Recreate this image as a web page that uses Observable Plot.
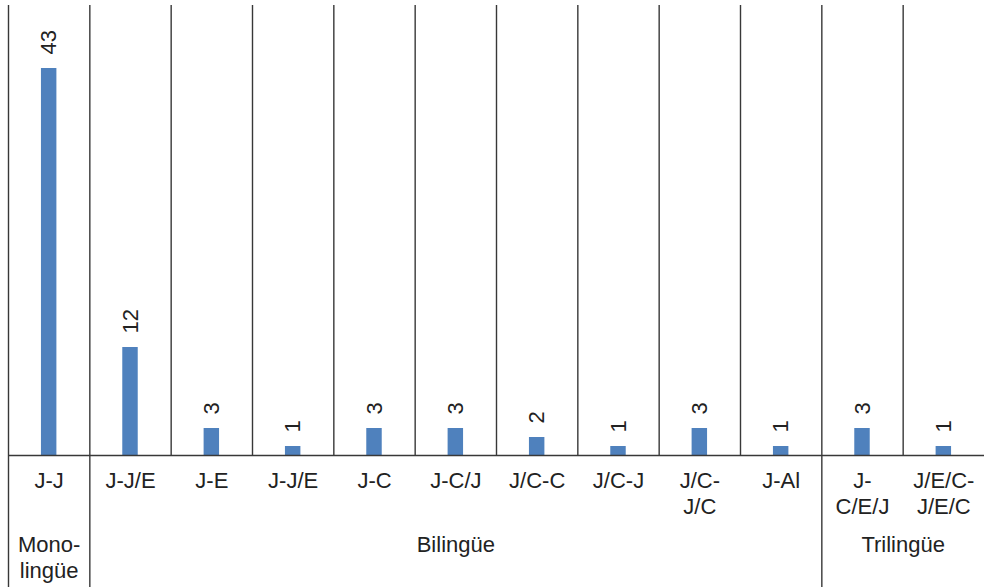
<!DOCTYPE html>
<html>
<head>
<meta charset="utf-8">
<script src="https://cdn.jsdelivr.net/npm/d3@7"></script>
<script src="https://cdn.jsdelivr.net/npm/@observablehq/plot@0.6"></script>
<style>
  html, body { margin: 0; padding: 0; background: #fff; }
  #chart svg { display: block; }
</style>
</head>
<body>
<div id="chart"></div>
<script>
const categories = ["J-J", "J-J/E", "J-E", "J-J/E", "J-C", "J-C/J", "J/C-C", "J/C-J", "J/C-\nJ/C", "J-Al", "J-\nC/E/J", "J/E/C-\nJ/E/C"];
const values = [43, 12, 3, 1, 3, 3, 2, 1, 3, 1, 3, 1];
const groupOf = ["Mono-\nlingüe", "Bilingüe", "Bilingüe", "Bilingüe", "Bilingüe", "Bilingüe", "Bilingüe", "Bilingüe", "Bilingüe", "Bilingüe", "Trilingüe", "Trilingüe"];

const data = categories.map((c, i) => ({i, c, v: values[i], g: groupOf[i]}));
const groupNames = [...new Set(groupOf)];
const groups = groupNames.map(name => {
  const idx = data.filter(d => d.g === name).map(d => d.i);
  return {name, start: d3.min(idx), end: d3.max(idx) + 1};
});
const boundaries = data.filter(d => d.i === 0 || groupOf[d.i] !== groupOf[d.i - 1]);
const inner = data.filter(d => d.i !== 0 && groupOf[d.i] === groupOf[d.i - 1]);

const lineColor = "#383838";
const textColor = "#222";
const font = "'Liberation Sans', Arial, Helvetica, sans-serif";

const chart = Plot.plot({
  width: 984,
  height: 587,
  marginTop: 5,
  marginBottom: 132,
  marginLeft: 8,
  marginRight: 0,
  x: {domain: [0, categories.length], axis: null},
  y: {domain: [0, 50], axis: null},
  style: {fontFamily: font, fontSize: "22px", color: textColor, background: "#fff"},
  marks: [
    Plot.rectY(data, {x1: d => d.i + 0.405, x2: d => d.i + 0.595, y: "v", fill: "#4f81bd"}),
    Plot.ruleX(inner, {x: "i", stroke: lineColor, strokeWidth: 1.4}),
    Plot.ruleX(boundaries, {x: "i", stroke: lineColor, strokeWidth: 1.4, insetBottom: -132}),
    Plot.ruleY([0], {stroke: lineColor, strokeWidth: 1.4}),
    Plot.text(data, {x: d => d.i + 0.5, y: "v", text: d => String(d.v), rotate: -90, textAnchor: "start", dy: -14, fontSize: 22, fill: textColor}),
    Plot.text(data, {x: d => d.i + 0.5, text: "c", frameAnchor: "bottom", lineAnchor: "top", dy: 14, lineHeight: 1.18, fontSize: 22, fill: textColor}),
    Plot.text(groups, {x: d => (d.start + d.end) / 2, text: "name", frameAnchor: "bottom", lineAnchor: "top", dy: 78, lineHeight: 1.18, fontSize: 22, fill: textColor})
  ]
});
document.getElementById("chart").appendChild(chart);
</script>
</body>
</html>
